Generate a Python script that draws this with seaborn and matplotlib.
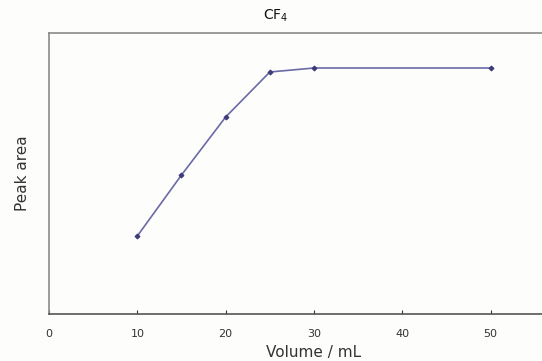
import matplotlib
matplotlib.use("Agg")
import matplotlib.pyplot as plt
import seaborn as sns
import pandas as pd

volume_ml = [10, 15, 20, 25, 30, 50]
peak_area = [78, 139, 197, 242, 246, 246]
x_ticks = [0, 10, 20, 30, 40, 50]

df = pd.DataFrame({"Volume": volume_ml, "Peak": peak_area})

sns.set_theme(style="white")
plt.rcParams['font.family'] = ['DejaVu Sans']

W, H = 542, 361
fig = plt.figure(figsize=(W / 100, H / 100), dpi=100)
fig.patch.set_facecolor("#fdfdfb")
left, right, top, bottom = 49, 579, 33, 314
ax = fig.add_axes([left / W, 1 - bottom / H, (right - left) / W, (bottom - top) / H])
ax.set_facecolor("#fdfdfb")

sns.lineplot(data=df, x="Volume", y="Peak", ax=ax, color="#6a6aa6", linewidth=1.2,
             marker="D", markersize=2.5, markeredgecolor="#3c3c7a", markerfacecolor="#3c3c7a")

ax.set_xlim(0, 60)
ax.set_ylim(0, 281)
ax.set_xticks(x_ticks)
ax.set_xticklabels([str(t) for t in x_ticks], fontsize=8, color="#333333")
ax.set_yticks([])
ax.tick_params(axis="x", direction="in", length=3, width=0.8, color="#333333", pad=11, bottom=True)
for s in ["left", "top", "bottom"]:
    ax.spines[s].set_visible(True)
    ax.spines[s].set_linewidth(1.2)
ax.spines["left"].set_color("#8a8a8a")
ax.spines["top"].set_color("#8a8a8a")
ax.spines["bottom"].set_color("#555555")
ax.spines["right"].set_visible(False)

ax.set_xlabel("Volume / mL", fontsize=11, color="#333333", labelpad=4)
ax.set_ylabel("Peak area", fontsize=11, color="#333333", labelpad=14)
fig.text(276 / W, 1 - 16 / H, "CF$_4$", ha="center", va="center", fontsize=10, color="#111111")

fig.savefig("out.png", dpi=100, facecolor=fig.get_facecolor())
